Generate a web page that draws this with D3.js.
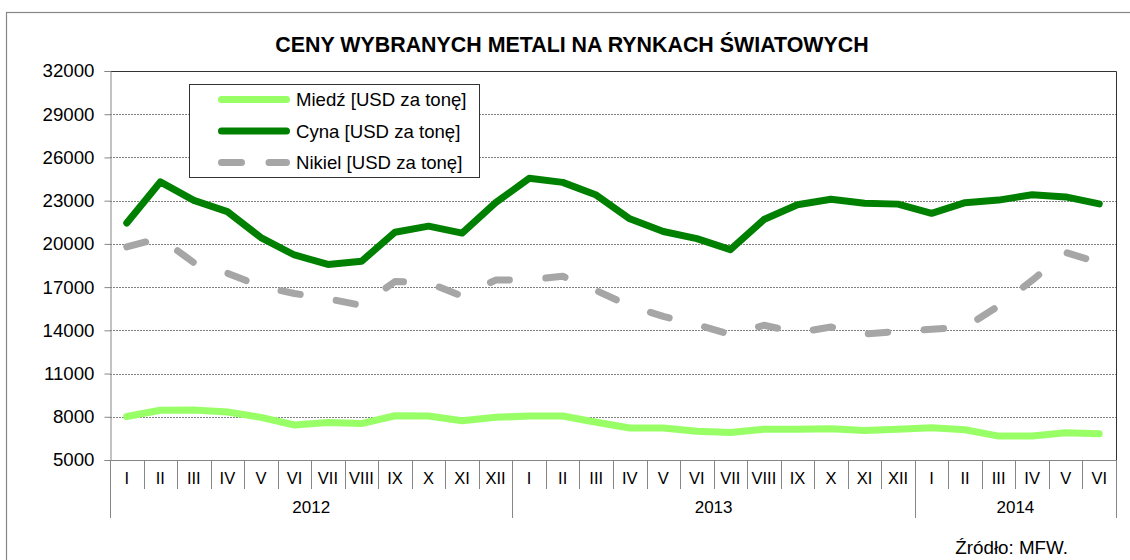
<!DOCTYPE html>
<html>
<head>
<meta charset="utf-8">
<script src="https://cdn.jsdelivr.net/npm/d3@7"></script>
<style>
  html, body { margin: 0; padding: 0; background: #fff; }
  svg { display: block; font-family: "Liberation Sans", Arial, sans-serif; }
</style>
</head>
<body>
<svg id="chart" width="1130" height="560"></svg>
<script>
// Monthly categories, grouped by year
const months = ["I","II","III","IV","V","VI","VII","VIII","IX","X","XI","XII",
                "I","II","III","IV","V","VI","VII","VIII","IX","X","XI","XII",
                "I","II","III","IV","V","VI"];
const yearLabels = ["2012", "2013", "2014"];
const yearMonthCounts = [12, 12, 6];

// Prices, USD per tonne
const miedz = [8020, 8450, 8470, 8330, 7960, 7430, 7600, 7530, 8070, 8050, 7730, 7960,
               8050, 8050, 7620, 7220, 7220, 7000, 6910, 7140, 7140, 7170, 7040, 7140,
               7240, 7100, 6660, 6670, 6890, 6820];
const cyna = [21450, 24300, 23020, 22240, 20440, 19230, 18570, 18790, 20810, 21230, 20750, 22860,
              24550, 24270, 23390, 21740, 20860, 20360, 19600, 21690, 22720, 23100, 22820, 22760,
              22120, 22860, 23040, 23410, 23260, 22780];
const nikiel = [19790, 20400, 18700, 17970, 17040, 16560, 16190, 15730, 17390, 17290, 16380, 17490,
                17510, 17750, 16760, 15690, 14970, 14390, 13720, 14350, 13840, 14230, 13750, 13930,
                14080, 14210, 15690, 17470, 19400, 18700];

const yTicks = [5000, 8000, 11000, 14000, 17000, 20000, 23000, 26000, 29000, 32000];

const seriesNames = ["Miedź [USD za tonę]", "Cyna [USD za tonę]", "Nikiel [USD za tonę]"];

const svg = d3.select("#chart");
const plot = { left: 110, right: 1116, top: 71, bottom: 460 };

// Outer chart frame (runs off the right and bottom edges)
svg.append("rect")
  .attr("x", 6.5).attr("y", 12.5)
  .attr("width", 1200).attr("height", 700)
  .attr("fill", "none").attr("stroke", "#868686").attr("stroke-width", 1.2);

// Title
svg.append("text")
  .attr("x", 572).attr("y", 52)
  .attr("text-anchor", "middle")
  .attr("font-size", 21.4).attr("font-weight", "bold")
  .attr("fill", "#000")
  .text("CENY WYBRANYCH METALI NA RYNKACH ŚWIATOWYCH");

const x = d3.scaleBand()
  .domain(d3.range(months.length))
  .range([plot.left, plot.right])
  .padding(0);
const xc = i => x(i) + x.bandwidth() / 2;

const y = d3.scaleLinear()
  .domain([5000, 32000])
  .range([plot.bottom, plot.top]);

// Horizontal grid lines
svg.append("g")
  .selectAll("line")
  .data(yTicks.filter(v => v > 5000 && v < 32000))
  .join("line")
  .attr("x1", plot.left).attr("x2", plot.right)
  .attr("y1", d => Math.round(y(d)) + 0.5).attr("y2", d => Math.round(y(d)) + 0.5)
  .attr("stroke", "#808080").attr("stroke-width", 1)
  .attr("stroke-dasharray", "2,1");

// Plot area frame (top and right edges)
svg.append("path")
  .attr("d", `M${plot.left},${plot.top + 0.5}H${plot.right + 0.5}V${plot.bottom}`)
  .attr("fill", "none").attr("stroke", "#333").attr("stroke-width", 1);

// Y axis
const yAxis = svg.append("g")
  .attr("transform", `translate(${plot.left + 0.5},0)`)
  .call(d3.axisLeft(y).tickValues(yTicks).tickSize(6).tickPadding(10).tickFormat(d3.format("d")));
yAxis.select(".domain").attr("stroke", "#868686");
yAxis.selectAll(".tick line").attr("stroke", "#868686");
yAxis.selectAll(".tick text")
  .attr("font-size", 18.7).attr("fill", "#000")
  .attr("font-family", "'Liberation Sans', Arial, sans-serif");

// X axis: month separators, month labels, year groups
const xg = svg.append("g");
xg.append("line")
  .attr("x1", plot.left).attr("x2", plot.right + 0.5)
  .attr("y1", plot.bottom + 0.5).attr("y2", plot.bottom + 0.5)
  .attr("stroke", "#868686");

const yearStarts = [0];
yearMonthCounts.forEach((n, k) => yearStarts.push(yearStarts[k] + n));

xg.selectAll("line.sep")
  .data(d3.range(1, months.length).filter(i => !yearStarts.includes(i)))
  .join("line")
  .attr("class", "sep")
  .attr("x1", i => Math.round(x(i)) + 0.5).attr("x2", i => Math.round(x(i)) + 0.5)
  .attr("y1", plot.bottom).attr("y2", plot.bottom + 29)
  .attr("stroke", "#868686");

xg.selectAll("line.ysep")
  .data(yearStarts)
  .join("line")
  .attr("class", "ysep")
  .attr("x1", i => i < months.length ? Math.round(x(i)) + 0.5 : plot.right + 0.5)
  .attr("x2", i => i < months.length ? Math.round(x(i)) + 0.5 : plot.right + 0.5)
  .attr("y1", plot.bottom).attr("y2", plot.bottom + 58)
  .attr("stroke", "#868686");

xg.selectAll("text.month")
  .data(months)
  .join("text")
  .attr("class", "month")
  .attr("x", (d, i) => xc(i)).attr("y", 484)
  .attr("text-anchor", "middle").attr("font-size", 16.5).attr("fill", "#000")
  .text(d => d);

xg.selectAll("text.year")
  .data(yearLabels)
  .join("text")
  .attr("class", "year")
  .attr("x", (d, k) => {
    const a = x(yearStarts[k]);
    const b = yearStarts[k + 1] < months.length ? x(yearStarts[k + 1]) : plot.right;
    return (a + b) / 2;
  })
  .attr("y", 513)
  .attr("text-anchor", "middle").attr("font-size", 17).attr("fill", "#000")
  .text(d => d);

// Series lines
const line = d3.line()
  .x((d, i) => xc(i))
  .y(d => y(d));

const styles = [
  { data: miedz, color: "#99FF66", dash: null },
  { data: cyna, color: "#008000", dash: null },
  { data: nikiel, color: "#A6A6A6", dash: "19.5,36.5" }
];

[styles[2], styles[1], styles[0]].forEach(s => {
  svg.append("path")
    .datum(s.data)
    .attr("d", line)
    .attr("fill", "none")
    .attr("stroke", s.color)
    .attr("stroke-width", 7)
    .attr("stroke-linejoin", "round")
    .attr("stroke-linecap", "round")
    .attr("stroke-dasharray", s.dash);
});

// Legend
const lg = svg.append("g");
lg.append("rect")
  .attr("x", 189.5).attr("y", 84.5)
  .attr("width", 290).attr("height", 93)
  .attr("fill", "#fff").attr("stroke", "#333").attr("stroke-width", 1);

const legendRows = [99.5, 131, 162.5];
styles.forEach((s, k) => {
  lg.append("line")
    .attr("x1", 221.5).attr("x2", 286.5)
    .attr("y1", legendRows[k]).attr("y2", legendRows[k])
    .attr("stroke", s.color).attr("stroke-width", 7)
    .attr("stroke-linecap", "round")
    .attr("stroke-dasharray", s.dash ? "20,27.5" : null);
  lg.append("text")
    .attr("x", 296).attr("y", legendRows[k])
    .attr("dy", "0.36em")
    .attr("font-size", 18.6).attr("fill", "#000")
    .text(seriesNames[k]);
});

// Source note
svg.append("text")
  .attr("x", 1068).attr("y", 554)
  .attr("text-anchor", "end")
  .attr("font-size", 18.8).attr("fill", "#000")
  .text("Źródło: MFW.");
</script>
</body>
</html>
